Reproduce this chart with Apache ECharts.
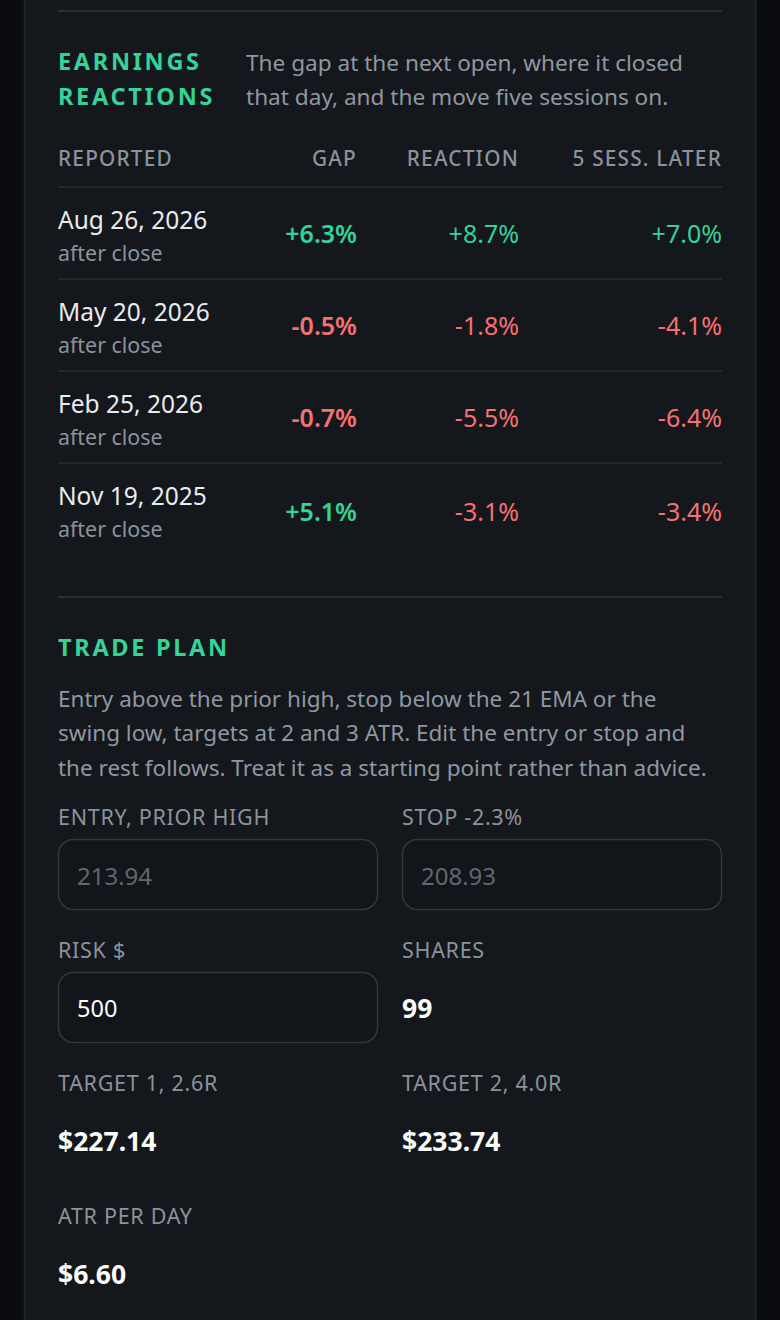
<!DOCTYPE html>
<html>
<head>
<meta charset="utf-8">
<title>Earnings reactions and trade plan</title>
<script src="https://cdn.jsdelivr.net/npm/echarts@6/dist/echarts.min.js"></script>
<style>
html, body { margin: 0; padding: 0; background: #0b0c0f; }
#main { width: 780px; height: 1320px; }
/* zrender has no letter-spacing, so the svg text nodes get it from css, keyed on an odd font size */
#main text[style*="23.51px"] { letter-spacing: 2.7px; }
#main text[style*="20.81px"] { letter-spacing: 1.2px; }
#main text[style*="21.52px"] { letter-spacing: 0.7px; }
</style>
</head>
<body>
<div id="main"></div>
<script type="text/javascript">
// earnings table
var tableHeads = ['REPORTED', 'GAP', 'REACTION', '5 SESS. LATER'];
var reportDates = ['Aug 26, 2026', 'May 20, 2026', 'Feb 25, 2026', 'Nov 19, 2025'];
var reportTiming = ['after close', 'after close', 'after close', 'after close'];
var gapPct = [6.3, -0.5, -0.7, 5.1];
var reactionPct = [8.7, -1.8, -5.5, -3.1];
var laterPct = [7.0, -4.1, -6.4, -3.4];

// trade plan fields
var planLabels = ['ENTRY, PRIOR HIGH', 'STOP -2.3%', 'RISK $', 'SHARES', 'TARGET 1, 2.6R', 'TARGET 2, 4.0R', 'ATR PER DAY'];
var planValues = [213.94, 208.93, 500, 99, 227.14, 233.74, 6.60];
var planKinds = ['placeholder', 'placeholder', 'input', 'plain', 'money', 'money', 'money'];

var descLines = ['The gap at the next open, where it closed', 'that day, and the move five sessions on.'];
var planText = [
    'Entry above the prior high, stop below the 21 EMA or the',
    'swing low, targets at 2 and 3 ATR. Edit the entry or stop and',
    'the rest follows. Treat it as a starting point rather than advice.'
];

var C = {
    panel: '#14171b', border: '#23272d', rule: '#2a2f36',
    text: '#e8ebef', muted: '#8b939c', body: '#8f98a2', faint: '#5f6770',
    green: '#34d399', red: '#f87171', boxLine: '#32373e'
};
var FONT = '"Noto Sans", "Open Sans", sans-serif';

// column anchors on the hidden value axis (0..664 = content width)
var colX = [0, 299, 461, 664];
var fieldX = [0, 344];
var boxW = 319;

function pct(v) {
    return (v > 0 ? '+' : '') + v.toFixed(1) + '%';
}
function pctColor(v) {
    return v >= 0 ? C.green : C.red;
}
function fmtPlan(k) {
    var v = planValues[k];
    if (planKinds[k] === 'money') return '$' + v.toFixed(2);
    if (planKinds[k] === 'placeholder') return v.toFixed(2);
    return String(v);
}

function renderRow(params, api) {
    var i = api.value(1);
    var cy = api.coord([0, i])[1];
    var band = api.size([0, 1])[1];
    var x = function (v) { return api.coord([v, i])[0]; };
    var top = cy - band / 2;
    var cells = [gapPct[i], reactionPct[i], laterPct[i]];
    var kids = [
        { type: 'line', shape: { x1: x(0), y1: top, x2: x(664), y2: top },
          style: { stroke: C.rule, lineWidth: 1.5 } },
        { type: 'text', x: x(0), y: cy - 14,
          style: { text: reportDates[i], fill: C.text, font: '400 24.5px ' + FONT, align: 'left', verticalAlign: 'middle' } },
        { type: 'text', x: x(0), y: cy + 19,
          style: { text: reportTiming[i], fill: C.muted, font: '400 21.4px ' + FONT, align: 'left', verticalAlign: 'middle' } }
    ];
    for (var c = 0; c < 3; c++) {
        kids.push({ type: 'text', x: x(colX[c + 1]), y: cy + (i === 3 ? 2 : 0),
            style: { text: pct(cells[c]), fill: pctColor(cells[c]),
                     font: (c === 0 ? '600 ' : '400 ') + '25px ' + FONT,
                     align: 'right', verticalAlign: 'middle' } });
    }
    return { type: 'group', children: kids };
}

function renderField(params, api) {
    var k = params.dataIndex;
    var p = api.coord([api.value(0), api.value(1)]);
    var x0 = p[0], cy = p[1];
    var kids = [
        { type: 'text', x: x0, y: cy,
          style: { text: planLabels[k], fill: C.muted, font: '400 21.52px ' + FONT, align: 'left', verticalAlign: 'middle' } }
    ];
    var kind = planKinds[k];
    if (kind === 'placeholder' || kind === 'input') {
        kids.push({ type: 'rect', shape: { x: x0 + 0.5, y: cy + 23.5, width: boxW, height: 70, r: 15 },
            style: { fill: '#121519', stroke: C.boxLine, lineWidth: 1.5 } });
        kids.push({ type: 'text', x: x0 + 19, y: cy + 59,
            style: { text: fmtPlan(k), fill: kind === 'input' ? '#ffffff' : C.faint,
                     font: '400 ' + (kind === 'input' ? '23.5px ' : '24px ') + FONT, align: 'left', verticalAlign: 'middle' } });
    } else {
        kids.push({ type: 'text', x: x0, y: cy + 59,
            style: { text: fmtPlan(k), fill: '#ffffff', font: '700 26.5px ' + FONT, align: 'left', verticalAlign: 'middle' } });
    }
    return { type: 'group', children: kids };
}

var graphics = [
    { type: 'rect', z: -10, shape: { x: 24.5, y: -2, width: 731, height: 1330 },
      style: { fill: C.panel, stroke: C.border, lineWidth: 1.5 } },
    { type: 'line', shape: { x1: 58, y1: 11, x2: 722, y2: 11 }, style: { stroke: C.rule, lineWidth: 2 } },
    { type: 'line', shape: { x1: 58, y1: 597, x2: 722, y2: 597 }, style: { stroke: C.rule, lineWidth: 2 } },
    { type: 'text', x: 58, y: 61, style: { text: 'EARNINGS', fill: C.green, font: '700 23.51px ' + FONT, align: 'left', verticalAlign: 'middle' } },
    { type: 'text', x: 58, y: 95.5, style: { text: 'REACTIONS', fill: C.green, font: '700 23.51px ' + FONT, align: 'left', verticalAlign: 'middle' } },
    { type: 'text', x: 58, y: 647, style: { text: 'TRADE PLAN', fill: C.green, font: '700 23.51px ' + FONT, align: 'left', verticalAlign: 'middle' } }
];
descLines.forEach(function (t, j) {
    graphics.push({ type: 'text', x: 246, y: 62 + j * 34,
        style: { text: t, fill: C.body, font: '400 22.6px ' + FONT, align: 'left', verticalAlign: 'middle' } });
});
planText.forEach(function (t, j) {
    graphics.push({ type: 'text', x: 58, y: 698 + j * 34.5,
        style: { text: t, fill: C.body, font: '400 22.5px ' + FONT, align: 'left', verticalAlign: 'middle' } });
});
tableHeads.forEach(function (t, j) {
    graphics.push({ type: 'text', x: 58 + colX[j], y: 158,
        style: { text: t, fill: C.muted, font: '500 20.81px ' + FONT, align: j === 0 ? 'left' : 'right', verticalAlign: 'middle' } });
});

var myChart = echarts.init(document.getElementById('main'), null, { renderer: 'svg' });
myChart.setOption({
    animation: false,
    backgroundColor: 'transparent',
    graphic: graphics,
    grid: [
        { left: 58, right: 58, top: 187, height: 368 },
        { left: 58, right: 58, top: 749.5, height: 532 }
    ],
    xAxis: [
        { gridIndex: 0, type: 'value', min: 0, max: 664, show: false },
        { gridIndex: 1, type: 'value', min: 0, max: 664, show: false }
    ],
    yAxis: [
        { gridIndex: 0, type: 'category', data: reportDates, inverse: true, show: false },
        { gridIndex: 1, type: 'category', data: ['r0', 'r1', 'r2', 'r3'], inverse: true, show: false }
    ],
    series: [
        {
            type: 'custom', xAxisIndex: 0, yAxisIndex: 0,
            data: reportDates.map(function (d, i) { return [0, i]; }),
            renderItem: renderRow
        },
        {
            type: 'custom', xAxisIndex: 1, yAxisIndex: 1,
            data: planLabels.map(function (l, k) { return [fieldX[k % 2], Math.floor(k / 2)]; }),
            renderItem: renderField
        }
    ]
});
</script>
</body>
</html>
